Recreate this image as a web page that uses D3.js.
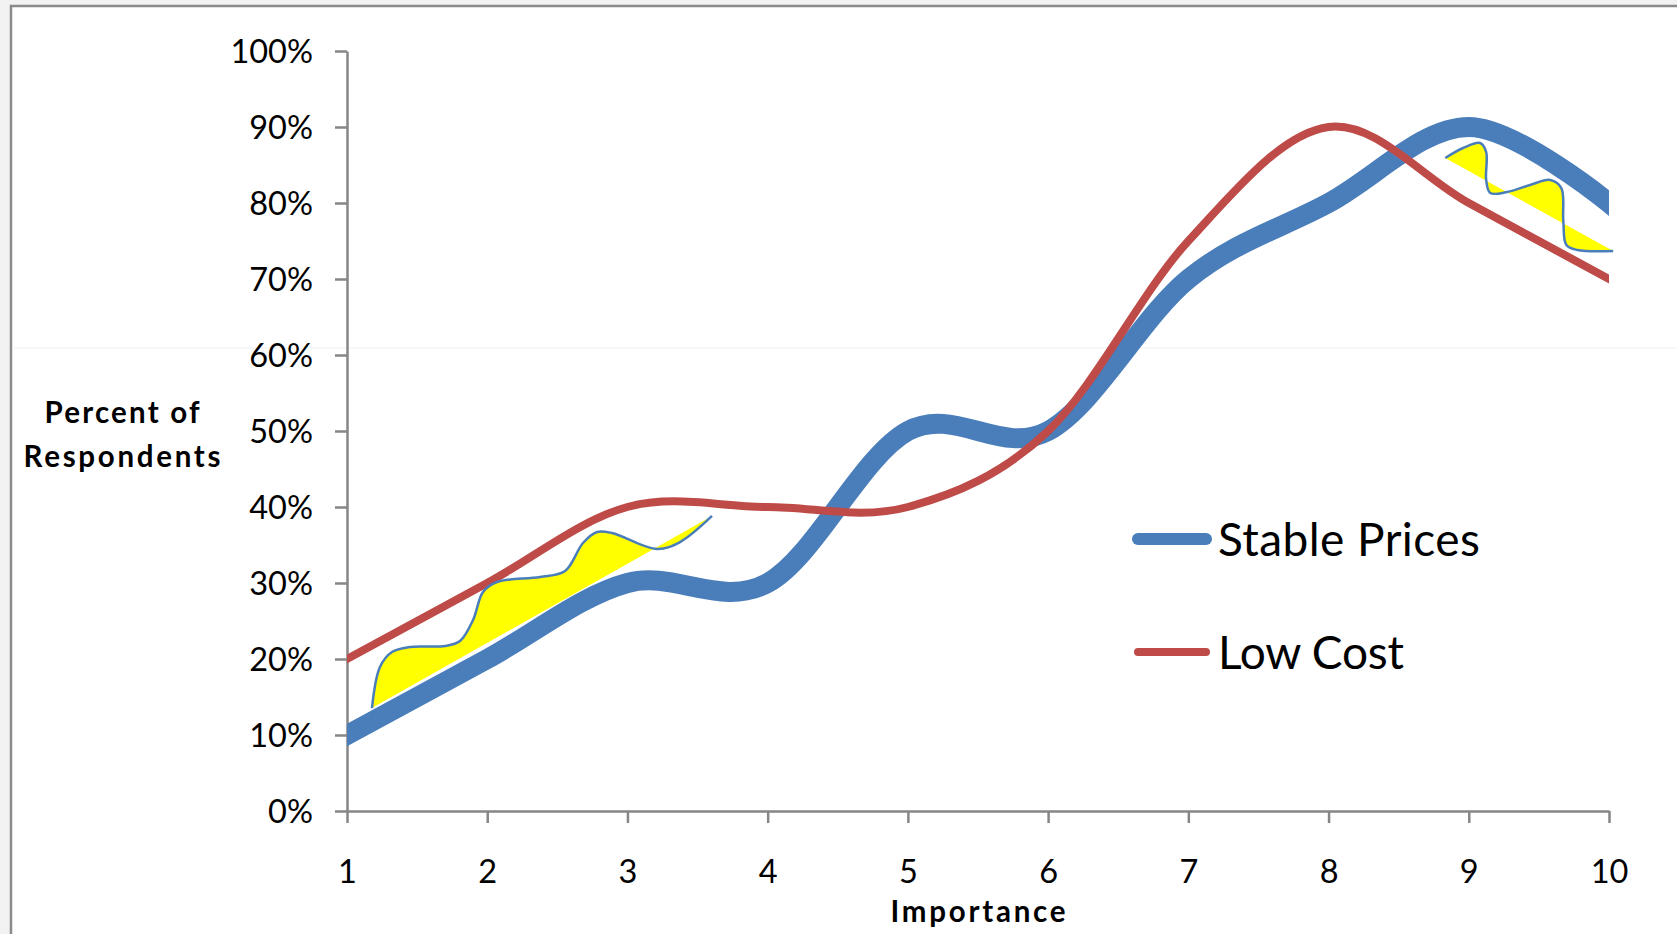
<!DOCTYPE html>
<html>
<head>
<meta charset="utf-8">
<script src="https://cdn.jsdelivr.net/npm/d3@7"></script>
<style>
  html, body { margin: 0; padding: 0; background: #f2f2f2; }
  svg { display: block; }
  text { font-family: Lato, "Open Sans", sans-serif; fill: #000; }
</style>
</head>
<body>
<svg id="chart" width="1677" height="934"></svg>
<script>
// Importance rating (x) and share of respondents (y) for each factor
const importance = [1, 2, 3, 4, 5, 6, 7, 8, 9, 10];
const stablePrices = [0.10, 0.20, 0.30, 0.30, 0.50, 0.50, 0.70, 0.80, 0.90, 0.80];
const lowCost = [0.20, 0.30, 0.40, 0.40, 0.40, 0.50, 0.75, 0.90, 0.80, 0.70];
const yTicks = [0, 0.1, 0.2, 0.3, 0.4, 0.5, 0.6, 0.7, 0.8, 0.9, 1.0];
const seriesNames = ["Stable Prices", "Low Cost"];

// Highlighted wave callouts, given in (importance, share) units
const waveLowX = [1.178, 1.235, 1.321, 1.449, 1.699, 1.806, 1.899, 1.970, 2.070, 2.377, 2.555, 2.683, 2.783, 2.890, 3.211, 3.375, 3.603];
const waveLowY = [0.1355, 0.1895, 0.2092, 0.2158, 0.2171, 0.2237, 0.2513, 0.2882, 0.3013, 0.3079, 0.3158, 0.3526, 0.3671, 0.3658, 0.3447, 0.3539, 0.3882];
const waveHighX = [8.832, 8.960, 9.081, 9.124, 9.124, 9.153, 9.274, 9.438, 9.581, 9.660, 9.674, 9.696, 9.774, 10.03];
const waveHighY = [0.8592, 0.8724, 0.8789, 0.8671, 0.8303, 0.8132, 0.8145, 0.8237, 0.8303, 0.8197, 0.7776, 0.7447, 0.7382, 0.7368];

const svg = d3.select("#chart");

// chart area frame
svg.append("rect").attr("x", 11).attr("y", 6).attr("width", 1700).attr("height", 960)
  .attr("fill", "#ffffff").attr("stroke", "#8a8a8a").attr("stroke-width", 2.5);
svg.append("line").attr("x1", 12).attr("x2", 1677).attr("y1", 348).attr("y2", 348)
  .attr("stroke", "#f1f1f1").attr("stroke-width", 1);

const x = d3.scaleLinear().domain([1, 10]).range([347, 1609]);
const y = d3.scaleLinear().domain([0, 1]).range([811, 51]);

// series are cut off at the ends of the category axis
svg.append("clipPath").attr("id", "plot-clip")
  .append("rect").attr("x", x(1)).attr("y", 0).attr("width", x(10) - x(1)).attr("height", 934);

// axes
const yAxis = d3.axisLeft(y).tickValues(yTicks).tickFormat(d3.format(".0%"))
  .tickSizeInner(12).tickSizeOuter(0).tickPadding(22);
const xAxis = d3.axisBottom(x).tickValues(importance).tickFormat(d3.format("d"))
  .tickSizeInner(12).tickSizeOuter(0).tickPadding(37);

const gy = svg.append("g").attr("transform", "translate(347,0)").call(yAxis);
const gx = svg.append("g").attr("transform", "translate(0,811)").call(xAxis);
[gy, gx].forEach(g => {
  g.select(".domain").attr("stroke", "#868686").attr("stroke-width", 2.5);
  g.selectAll(".tick line").attr("stroke", "#868686").attr("stroke-width", 2.5);
  g.selectAll(".tick text").attr("font-family", "Lato").attr("font-size", 32.5).attr("fill", "#000");
});
gy.selectAll(".tick text").attr("dy", "0.36em");
gx.selectAll(".tick text").attr("dy", "0.72em");

// axis titles
const yTitle = svg.append("text").attr("text-anchor", "middle").attr("font-weight", 700).attr("font-size", 29.5);
yTitle.append("tspan").attr("x", 122).attr("y", 423).attr("textLength", 155).text("Percent of");
yTitle.append("tspan").attr("x", 122).attr("y", 467).attr("textLength", 197).text("Respondents");
svg.append("text").attr("x", 978).attr("y", 922).attr("text-anchor", "middle")
  .attr("font-weight", 700).attr("font-size", 29.5).attr("textLength", 175).text("Importance");

// smoothed series lines
const smooth = d3.line().x((d, i) => x(importance[i])).y(d => y(d)).curve(d3.curveCardinal.tension(0));
const lines = svg.append("g").attr("clip-path", "url(#plot-clip)");
lines.append("path").attr("d", smooth(stablePrices)).attr("fill", "none")
  .attr("stroke", "#4a7ebb").attr("stroke-width", 20).attr("stroke-linecap", "square");
lines.append("path").attr("d", smooth(lowCost)).attr("fill", "none")
  .attr("stroke", "#be4b48").attr("stroke-width", 8).attr("stroke-linecap", "square");

// wave callouts: yellow fill closed by a straight chord, blue wavy edge
function drawWave(xs, ys) {
  const pts = xs.map((v, i) => [x(v), y(ys[i])]);
  const wave = d3.line().curve(d3.curveCatmullRom.alpha(0.5));
  svg.append("path").attr("d", wave(pts) + "Z").attr("fill", "#ffff00").attr("stroke", "none");
  svg.append("path").attr("d", wave(pts)).attr("fill", "none")
    .attr("stroke", "#4a7ebb").attr("stroke-width", 2.5);
}
drawWave(waveLowX, waveLowY);
drawWave(waveHighX, waveHighY);

// legend
const legendColors = ["#4a7ebb", "#be4b48"];
const legendWidths = [12, 8];
const legendY = [539, 652];
const legendText = [262, 186];
seriesNames.forEach((name, i) => {
  svg.append("line").attr("x1", 1138).attr("x2", 1206).attr("y1", legendY[i]).attr("y2", legendY[i])
    .attr("stroke", legendColors[i]).attr("stroke-width", legendWidths[i]).attr("stroke-linecap", "round");
  svg.append("text").attr("x", 1218).attr("y", legendY[i] + 17).attr("font-size", 46)
    .attr("textLength", legendText[i]).text(name);
});
</script>
</body>
</html>
